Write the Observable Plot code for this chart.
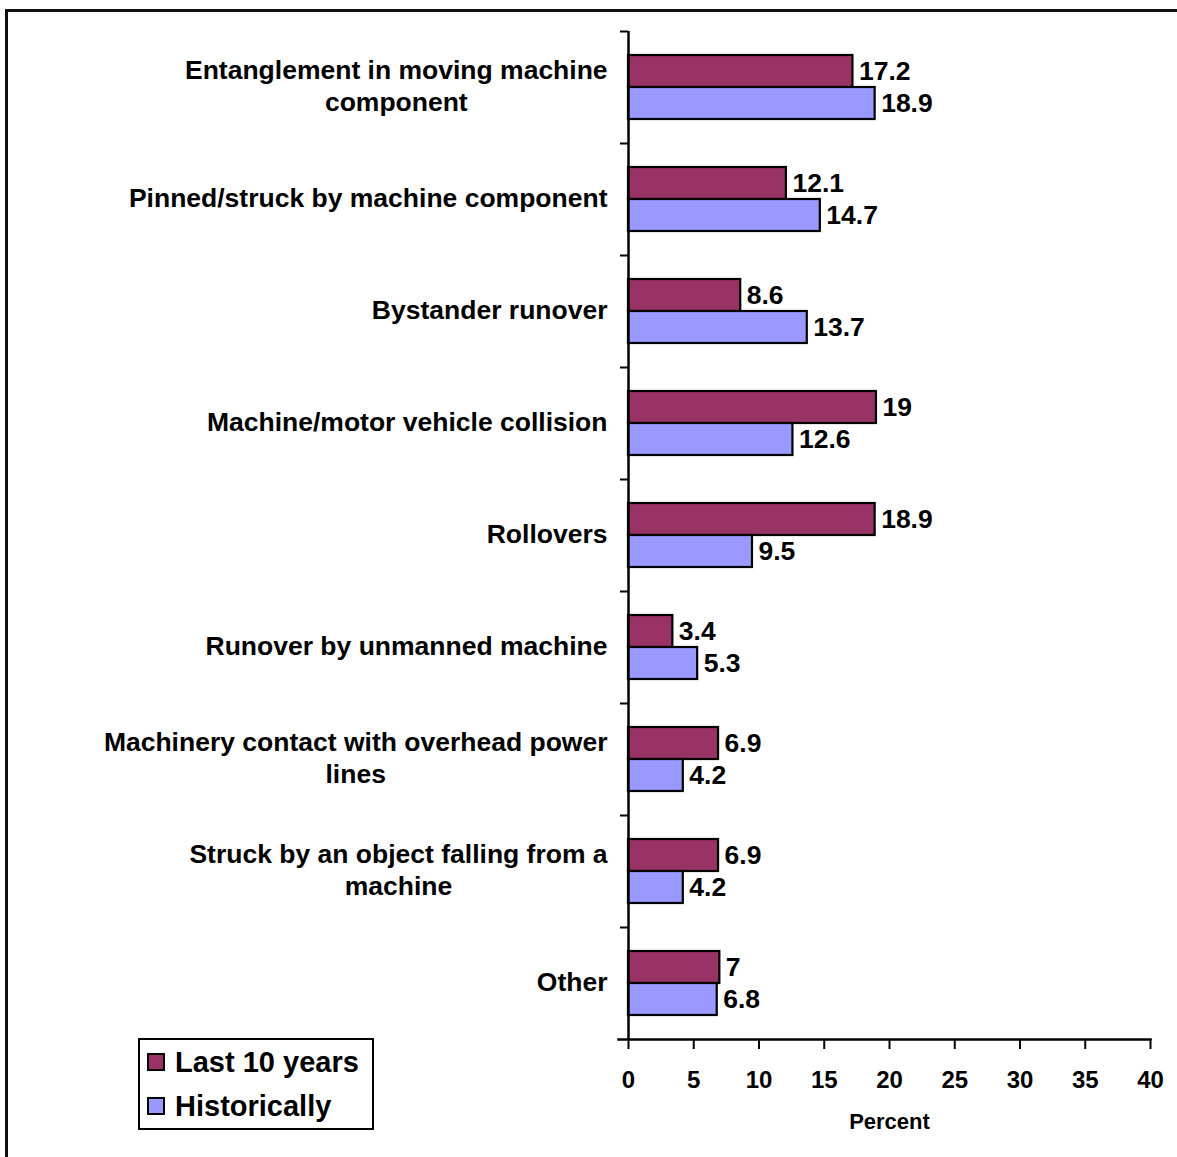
<!DOCTYPE html>
<html>
<head>
<meta charset="utf-8">
<script src="https://cdn.jsdelivr.net/npm/d3@7"></script>
<script src="https://cdn.jsdelivr.net/npm/@observablehq/plot@0.6"></script>
<style>
  body { margin: 0; background: white; }
  #wrap { position: relative; width: 1177px; height: 1157px; overflow: hidden; background: white;
          font-family: "Liberation Sans", Arial, sans-serif; font-weight: bold; color: black; }
  #frame { position: absolute; left: 5px; top: 9px; width: 2000px; height: 2000px; border: 3px solid #111; }
  #chart { position: absolute; left: 0; top: 0; }
  #legend { position: absolute; left: 138px; top: 1038px; width: 225px; height: 88px;
            border: 2px solid black; background: white; padding-left: 7px; box-sizing: content-box; }
  #legend .row { height: 44px; display: flex; align-items: center; font-size: 29px; }
  #legend .sw { width: 14px; height: 14px; border: 2px solid black; margin-right: 10px; }
</style>
</head>
<body>
<div id="wrap">
  <div id="frame"></div>
  <div id="chart"></div>
  <div id="legend"></div>
</div>
<script>
const categories = [
  "Entanglement in moving machine\ncomponent",
  "Pinned/struck by machine component",
  "Bystander runover",
  "Machine/motor vehicle collision",
  "Rollovers",
  "Runover by unmanned machine",
  "Machinery contact with overhead power\nlines",
  "Struck by an object falling from a\nmachine",
  "Other"
]
const series = ["Last 10 years", "Historically"]
const lastTen = [17.2, 12.1, 8.6, 19, 18.9, 3.4, 6.9, 6.9, 7]
const historically = [18.9, 14.7, 13.7, 12.6, 9.5, 5.3, 4.2, 4.2, 6.8]
const xTicks = [0, 5, 10, 15, 20, 25, 30, 35, 40]
const colors = ["#993366", "#9999FF"]

const rows = categories.flatMap((c, i) => [
  {category: c, series: series[0], value: lastTen[i]},
  {category: c, series: series[1], value: historically[i]}
])

let chart = Plot.plot({
  width: 1177,
  height: 1157,
  marginLeft: 628,
  marginRight: 27,
  marginTop: 30,
  marginBottom: 117,
  style: {
    background: "transparent",
    fontFamily: "'Liberation Sans', Arial, sans-serif",
    fontWeight: "bold",
    color: "black"
  },
  x: {domain: [0, 40]},
  fy: {domain: categories, padding: 0, axis: null},
  y: {domain: series, paddingInner: 0, paddingOuter: 0.72, axis: null},
  color: {domain: series, range: colors},
  marks: [
    Plot.barX(rows, {x: "value", y: "series", fy: "category", fill: "series", stroke: "black", strokeWidth: 2.2}),
    Plot.text(rows, {x: "value", y: "series", fy: "category", text: "value",
      textAnchor: "start", dx: 6, fontSize: 26.5, fill: "black"}),
    Plot.ruleX([0], {strokeWidth: 2.5}),
    Plot.axisFy({anchor: "left", tickSize: 8, text: null, dy: -56, strokeWidth: 2, label: null}),
    Plot.axisFy({anchor: "left", tickSize: 0, tickPadding: 21, fontSize: 26.5, lineHeight: 1.22, dy: -3, label: null}),
    Plot.frame({anchor: "bottom", facetAnchor: "bottom", insetLeft: -10, strokeWidth: 2.5}),
    Plot.axisX({ticks: xTicks, tickSize: 10, tickPadding: 21, fontSize: 24, strokeWidth: 2, label: null}),
    Plot.axisX({ticks: [], tickSize: 0, label: "Percent", labelAnchor: "center", labelArrow: "none",
      labelOffset: 89, fontSize: 22})
  ]
})

d3.select("#chart").append(() => chart)

// multi-line category labels are centred on themselves, like the original
d3.select(chart).selectAll("text").each(function() {
  const spans = this.querySelectorAll("tspan")
  if (spans.length > 1) {
    const b = this.getBBox()
    const mid = b.x + b.width / 2
    this.setAttribute("text-anchor", "middle")
    spans.forEach(s => s.setAttribute("x", mid))
  }
})

const legend = d3.select("#legend")
series.forEach((s, i) => {
  const row = legend.append("div").attr("class", "row")
  row.append("div").attr("class", "sw").style("background", colors[i])
  row.append("span").text(s)
})
</script>
</body>
</html>
